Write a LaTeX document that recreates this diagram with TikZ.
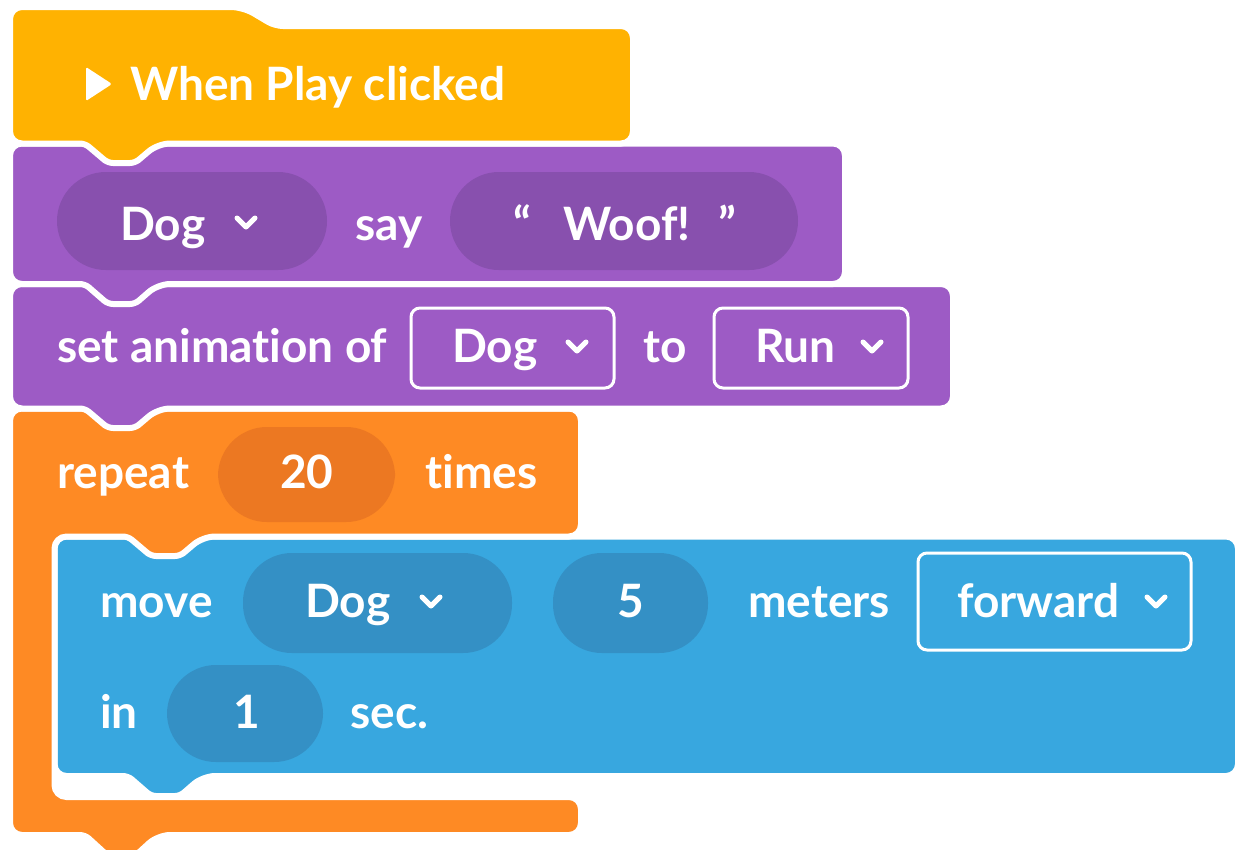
\documentclass[tikz,border=0pt]{standalone}
\usepackage{fontspec}
\setmainfont{Lato}[Ligatures={NoCommon,NoRare,NoContextual}]
\definecolor{cyellow}{HTML}{FFB201}
\definecolor{cpurple}{HTML}{9D5BC5}
\definecolor{cpurpled}{HTML}{8850AE}
\definecolor{corange}{HTML}{FE8A24}
\definecolor{coranged}{HTML}{EC7822}
\definecolor{cblue}{HTML}{38A7DF}
\definecolor{cblued}{HTML}{3490C5}
\begin{document}
\begin{tikzpicture}[x=1pt,y=-1pt,
  blk/.style={draw=white, line width=6pt, rounded corners=12pt},
  lbl/.style={text=white, font=\fontsize{46}{50}\selectfont\bfseries, inner sep=0pt, anchor=base west},
  chev/.style={draw=white, line width=5pt, line cap=round, line join=round},
  pill/.style={rounded corners=49pt},
  obox/.style={draw=white, line width=3pt, rounded corners=9pt}]
\useasboundingbox (0,0) rectangle (1240,849);
\fill[white] (0,0) rectangle (1240,849);

% ---------- blue block (move) ----------
\filldraw[blk, fill=cblue] (54.5,536.5) -- (1238,536.5) -- (1238,776)
  -- (203,776) [rounded corners=5pt] -- (180,796) -- (151,796) -- (128,776) [rounded corners=12pt]
  -- (54.5,776) -- cycle;
\fill[cblued, pill] (243,553) rectangle (512,653);
\fill[cblued, pill] (553,553) rectangle (708,653);
\draw[obox] (918,553) rectangle (1191,650);
\fill[cblued, pill] (167,665) rectangle (323,762);
\node[lbl] (move) at (100,617) {move};
\node[lbl] (dog3) at (305,617) {Dog};
\draw[chev] (422,597) -- (431,606) -- (440,597);
\node[lbl] (five) at (617,617) {5};
\node[lbl] (meters) at (748,617) {meters};
\node[lbl] (forward) at (957,617) {forward};
\draw[chev] (1147,597) -- (1156,606) -- (1165,597);
\node[lbl] (in) at (100,728) {in};
\node[lbl] (one) at (233,728) {1};
\node[lbl] (sec) at (350,728) {sec.};

% ---------- orange block (repeat) ----------
\filldraw[blk, fill=corange] (10,408.5) -- (581,408.5) -- (581,536.5)
  -- (203,536.5) [rounded corners=5pt] -- (180,556) -- (151,556) -- (128,536.5) [rounded corners=12pt]
  -- (54.5,536.5) -- (54.5,797) -- (581,797) -- (581,835)
  -- (158,835) [rounded corners=5pt] -- (135,856) -- (108,856) -- (85,835) [rounded corners=12pt]
  -- (10,835) -- cycle;
\fill[coranged, pill] (218,427) rectangle (395,522);
\node[lbl] (repeat) at (57,488) {repeat};
\node[lbl] (twenty) at (280,488) {20};
\node[lbl] (times) at (425,488) {times};

% ---------- purple block 2 (set animation) ----------
\filldraw[blk, fill=cpurple] (10,284) -- (953,284) -- (953,408.5)
  -- (158,408.5) [rounded corners=5pt] -- (135,428) -- (108,428) -- (85,408.5) [rounded corners=12pt]
  -- (10,408.5) -- cycle;
\draw[obox] (411,308) rectangle (614,388);
\draw[obox] (714,308) rectangle (908,388);
\node[lbl] (set) at (57,362) {set animation of};
\node[lbl] (dog2) at (452,362) {Dog};
\draw[chev] (568,342) -- (577,351) -- (586,342);
\node[lbl] (to) at (643,362) {to};
\node[lbl] (run) at (755,362) {Run};
\draw[chev] (863,342) -- (872,351) -- (881,342);

% ---------- purple block 1 (say) ----------
\filldraw[blk, fill=cpurple] (10,143.5) -- (845,143.5) -- (845,284)
  -- (158,284) [rounded corners=5pt] -- (135,304) -- (108,304) -- (85,284) [rounded corners=12pt]
  -- (10,284) -- cycle;
\fill[cpurpled, pill] (57,172) rectangle (327,270);
\fill[cpurpled, pill] (450,172) rectangle (798,270);
\node[lbl] (dog1) at (120,240) {Dog};
\draw[chev] (237,218) -- (246,227) -- (255,218);
\node[lbl] (say) at (355,240) {say};
\node[lbl] (q1) at (513,240) {“};
\node[lbl] (woof) at (563,240) {Woof!};
\node[lbl] (q2) at (718,240) {”};

% ---------- yellow hat block ----------
\filldraw[blk, fill=cyellow] (10,7) -- (243,7) [rounded corners=8pt] -- (275,26) [rounded corners=12pt]
  -- (633,26) -- (633,143.5)
  -- (158,143.5) [rounded corners=5pt] -- (135,163) -- (108,163) -- (85,143.5) [rounded corners=12pt]
  -- (10,143.5) -- cycle;
\fill[white, rounded corners=1.5pt] (86,67) -- (86,101) -- (112,84) -- cycle;
\node[lbl] (when) at (130,100) {When Play clicked};
\end{tikzpicture}
\end{document}
